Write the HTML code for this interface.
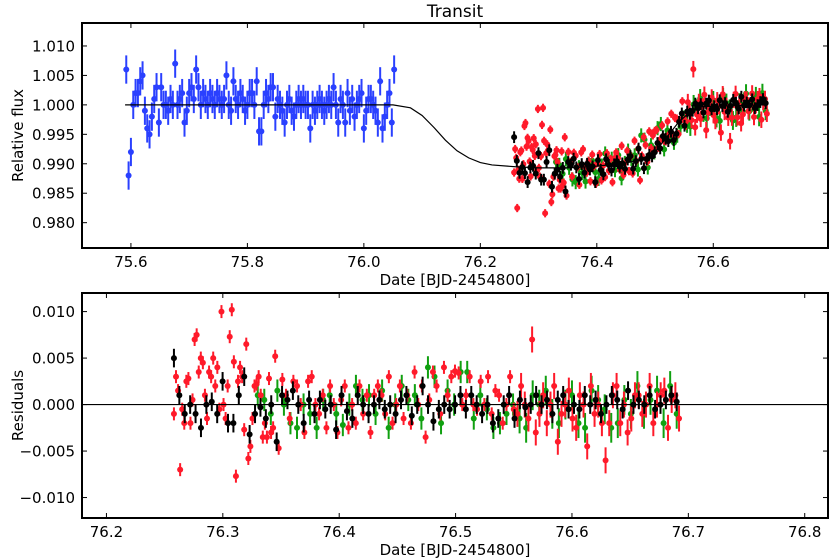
<!DOCTYPE html>
<html><head><meta charset="utf-8"><style>
body{margin:0;background:#fff}
svg{display:block;font-family:"DejaVu Sans","Liberation Sans",sans-serif}
</style></head><body>
<svg id="c" width="830" height="559" viewBox="0 0 830 559"></svg>
<script>
// ---- data (flux deviations / residuals in parts per thousand) ----
const blueT0 = 75.592, blueT1 = 76.052;
const blueDev = [6,-12,-8,0,2,2,4,5,-1,-4,-5,-2,1,3,-3,3,0,0,-1,1,0,7,0,1,2,-3,-1,2,3,1,6,3,0,2,1,0,2,1,0,2,1,0,1,5,0,-1,4,1,0,2,1,-1,0,2,2,0,4,-4.5,-4.5,0,2,1,3,3,-2,1,0,-1,-3,0,1,-1,-2,0,1,0,1,0,0,-4,0,-1,0,1,0,-1,0,1,0,3,0,-3,1,0,-3,2,-1,1,-2,0,1,2,-4,-1,1,1,0,-1,-3,4,-4,-2,0,2,-3,6];
const redAT0 = 76.258, redAT1 = 76.345;
const redARes = [-1,3,1.5,-7,-0.5,-2,2.5,2.8,-2,0.5,7,7.5,3.5,5,4.5,1,-1.5,3.5,3,5,2,4,-0.5,10,0,-1.5,2,7.3,10.2,4.6,-7.7,2.5,4,3,-2.7,6.5,-5.8,-4.5,-1.5,2,2.2,3,1,-3.5,-2,-3.5,2.8,-3,-2.5,5.2];
const redBT0 = 76.348, redBT1 = 76.692;
const redBRes = [-4.7,2.7,1,-1.5,2.5,2,0,-3,2.5,3,0,-1,1,-2.5,2,0,-3,0.5,2,-2.5,0,-2,2,-1,1,-3,1,2,1,-1,3,-2,0,2,-1.5,1,-2,3.5,0,2,-3.5,0.5,3.5,2,-1,4,1,3,3.6,3.4,0,1,3,0,-0.5,2.5,0,3,-1,1.5,1,-2,0,3,-0.5,-1,2,0,-1.5,7,-3,-1,1,-2,0,2,-4,-1,0,1.5,-1.5,-2.5,1,0,-4.5,2,-1,0,-2,-6,-2,1,2,-2,0,-3,-1.5,1,1,-1,0,2,-2,0,1,1.5,-2.5,0.5,1,-1.5];
const blackT0 = 76.258, blackT1 = 76.69;
const blackRes = [5,1,-1,0,-1,-2.5,0,0.3,-1,2.5,-2,-2,1,3,-3.2,-1,-0.3,-1.5,0,-4,1,0.5,1.5,0,-2,0.5,-1,0.5,-0.5,0,-2.7,1,-0.7,-1.5,1,0,-1,0,0.5,-0.5,0,-1,0.5,1,-1.2,0,2,0,-1.8,-0.5,0,-0.5,0,1,-0.5,1,0,-1,0,-2,-1.5,0,1,-1.5,0.5,-0.3,0,1,0,0.5,-1,0.5,1,-0.5,0,-0.5,1,0,0.5,-1,0,1,0.5,-0.5,1.5,0,0.5,0,1,-0.5,0,0.5,1,0.3];
const greenT0 = 76.33, greenT1 = 76.69;
const greenRes = [1,0.5,-1,1.5,0,-2,-2.5,0,-1,-2.5,0.5,1,-1,-2.2,0,2,0.5,1,-1,1.5,-2.5,0,2,0.5,1,-1.5,4,3,-2,1.5,0,3.5,3.5,-1.5,1,-0.5,-2.5,-2,-1,0,-1.5,-2.5,1,0,1.5,-1,-2,0,1,-2,-2.5,1.5,0.5,-0.5,-2.5,-2,0.5,-1,2,-1,0.5,1.5,-2,2,-1];
const modelT = [75.59,76.05,76.08,76.10,76.12,76.14,76.16,76.18,76.20,76.22,76.26,76.30,76.35,76.40,76.44,76.47,76.50,76.52,76.54,76.56,76.58,76.69];
const modelF = [1.0,1.0,0.9995,0.9982,0.9962,0.9940,0.9922,0.9910,0.9902,0.9898,0.9895,0.9893,0.9893,0.9896,0.9900,0.9905,0.9920,0.9945,0.9970,0.9988,0.9997,1.0];
const topXTicks = [75.6,75.8,76.0,76.2,76.4,76.6];
const topYTicks = [0.980,0.985,0.990,0.995,1.000,1.005,1.010];
const botXTicks = [76.2,76.3,76.4,76.5,76.6,76.7,76.8];
const botYTicks = [-0.010,-0.005,0.000,0.005,0.010];

const NS='http://www.w3.org/2000/svg', svg=document.getElementById('c');
function mk(tag, at, parent){const e=document.createElementNS(NS,tag);for(const k in at)e.setAttribute(k,at[k]);(parent||svg).appendChild(e);return e;}
const L=82,R=828;
const T={top:23,bot:248,x0:75.516,x1:76.797,y0:0.9757,y1:1.0139};
const B={top:293,bot:518,x0:76.179,x1:76.82,y0:-0.0122,y1:0.0120};
function sx(p,v){return L+(v-p.x0)/(p.x1-p.x0)*(R-L);}
function sy(p,v){return p.bot-(v-p.y0)/(p.y1-p.y0)*(p.bot-p.top);}
function model(t){for(let i=0;i<modelT.length-1;i++){if(t<=modelT[i+1]){const f=(t-modelT[i])/(modelT[i+1]-modelT[i]);return modelF[i]+f*(modelF[i+1]-modelF[i]);}}return modelF[modelF.length-1];}
function times(t0,t1,n){const a=[];for(let i=0;i<n;i++)a.push(t0+(t1-t0)*i/(n-1));return a;}

function axes(p,name,xt,yt,xfmt,yfmt,xlab,ylab){
  const g=mk('g',{});
  
  
  const fr=mk('rect',{x:L,y:p.top,width:R-L,height:p.bot-p.top,fill:'none',stroke:'#000','stroke-width':2},g);
  
  
  xt.forEach(v=>{const x=sx(p,v);if(x<L-1||x>R+1)return;
    mk('line',{x1:x,x2:x,y1:p.bot,y2:p.bot-5,stroke:'#000','stroke-width':1},g);
    mk('line',{x1:x,x2:x,y1:p.top,y2:p.top+5,stroke:'#000','stroke-width':1},g);
    const t=mk('text',{x:x,y:p.bot+19,'font-size':15,'text-anchor':'middle'},g);t.textContent=xfmt(v);
    
    });
  yt.forEach(v=>{const y=sy(p,v);
    mk('line',{x1:L,x2:L+5,y1:y,y2:y,stroke:'#000','stroke-width':1},g);
    mk('line',{x1:R,x2:R-5,y1:y,y2:y,stroke:'#000','stroke-width':1},g);
    const t=mk('text',{x:L-7,y:y+5.5,'font-size':15,'text-anchor':'end'},g);t.textContent=yfmt(v);
    
    });
  const xl=mk('text',{x:455,y:p.bot+37,'font-size':15,'text-anchor':'middle'},g);xl.textContent=xlab;
  
  
  const cy=(p.top+p.bot)/2;
  const yl=mk('text',{x:0,y:0,'font-size':15,'text-anchor':'middle',transform:`translate(23,${cy}) rotate(-90)`},g);yl.textContent=ylab;
  
  
}
function pts(p,ts,vals,errs,color,name,r){
  const g=mk('g',{});
  
  
  ts.forEach((t,i)=>{const x=sx(p,t),y=sy(p,vals[i]);
    if(x<L||x>R)return;
    const err=typeof errs==='function'?errs(t):errs;
    mk('line',{x1:x,x2:x,y1:sy(p,vals[i]+err),y2:sy(p,vals[i]-err),stroke:color,'stroke-width':2},g);
    const c=mk('circle',{cx:x,cy:y,r:r,fill:color},g);
    
    });
}
const redErr=t=>t>76.55?0.0014:0.0007;
const greenErr=t=>t>76.55?0.0016:0.0012;
// title
const ti=mk('text',{x:455,y:17,'font-size':17,'text-anchor':'middle'});ti.textContent='Transit';



axes(T,'flux-panel',topXTicks,topYTicks,v=>v.toFixed(1),v=>v.toFixed(3),'Date [BJD-2454800]','Relative flux');
axes(B,'residuals-panel',botXTicks,botYTicks,v=>v.toFixed(1),v=>(v<0?'\u2212':'')+Math.abs(v).toFixed(3),'Date [BJD-2454800]','Residuals');

const bT=times(blueT0,blueT1,blueDev.length);
const rT=times(redAT0,redAT1,redARes.length).concat(times(redBT0,redBT1,redBRes.length));
const rRes=redARes.concat(redBRes);
const kT=times(blackT0,blackT1,blackRes.length), gT=times(greenT0,greenT1,greenRes.length);
// top panel
pts(T,bT,blueDev.map(d=>1+d/1000),0.0024,'#2a40ff','blue-series',3);
pts(T,gT,greenRes.map((d,i)=>model(gT[i])+d/1000),greenErr,'#10a010','green-series',3);
pts(T,rT,rRes.map((d,i)=>model(rT[i])+d/1000),redErr,'#ff1a2a','red-series',3);
pts(T,kT,blackRes.map((d,i)=>model(kT[i])+d/1000),0.001,'#000','black-series',3);
const ml=mk('polyline',{points:modelT.map((t,i)=>sx(T,t)+','+sy(T,modelF[i])).join(' '),fill:'none',stroke:'#000','stroke-width':1.2});


// bottom panel
pts(B,gT,greenRes.map(d=>d/1000),greenErr,'#10a010','green-residuals',3);
pts(B,rT,rRes.map(d=>d/1000),redErr,'#ff1a2a','red-residuals',3);
pts(B,kT,blackRes.map(d=>d/1000),0.001,'#000','black-residuals',3);
const zl=mk('line',{x1:L,x2:R,y1:sy(B,0),y2:sy(B,0),stroke:'#000','stroke-width':1.2});


</script>
</body></html>
